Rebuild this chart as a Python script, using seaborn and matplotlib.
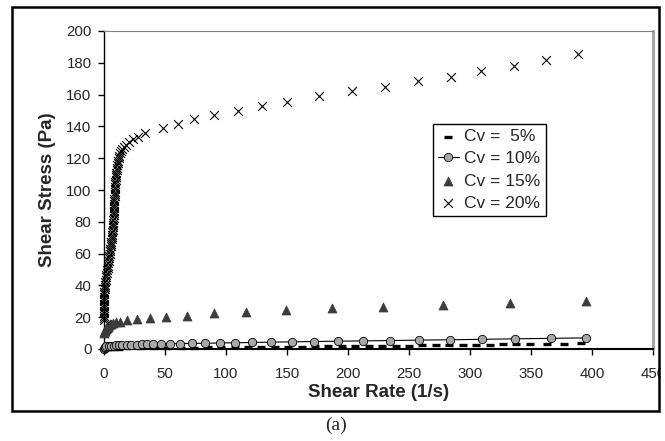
import matplotlib.pyplot as plt
import matplotlib.patches as patches
import seaborn as sns

# Cv = 5 % (dash markers)
rate_5 = [0, 0.5, 1, 2, 3, 5, 8, 12, 20, 30, 41, 52, 63, 74, 85, 96, 107, 118, 129, 140, 151, 162,
          173, 184, 195, 206, 217, 228, 239, 250, 261, 272, 283, 294, 305, 316, 327, 338, 349,
          363, 377, 391]
stress_5 = [0, 0, 0.1, 0.1, 0.1, 0.2, 0.2, 0.3, 0.4, 0.5, 0.6, 0.7, 0.8, 0.9, 1.0, 1.0, 1.1, 1.2,
            1.3, 1.4, 1.4, 1.5, 1.6, 1.7, 1.8, 1.9, 1.9, 2.0, 2.1, 2.2, 2.3, 2.4, 2.5, 2.6, 2.7,
            2.8, 2.9, 3.0, 3.1, 3.3, 3.4, 3.5]

# Cv = 10 % (grey circles joined by a line)
rate_10 = [0, 0.5, 1, 2, 4, 6, 8, 10, 12, 14.5, 18.5, 22.5, 27, 31, 35, 40, 47, 54, 62, 72, 83,
           95, 107, 121.5, 137, 154, 172, 191.5, 212.5, 234.5, 258, 284, 310, 337, 366, 395]
stress_10 = [0, 0.8, 1.2, 1.6, 1.9, 2.1, 2.2, 2.3, 2.4, 2.5, 2.6, 2.7, 2.8, 2.9, 3.0, 3.1, 3.2,
             3.3, 3.4, 3.5, 3.6, 3.8, 3.9, 4.1, 4.3, 4.5, 4.7, 4.9, 5.1, 5.3, 5.6, 5.8, 6.1,
             6.4, 6.7, 7.0]

# Cv = 15 % (dark triangles)
rate_15 = [0, 0.3, 0.6, 1, 1.5, 2, 2.5, 3, 3.5, 4, 5, 6, 7.7, 10, 13, 18.6, 26.8, 37.7, 51,
           68.3, 90, 116, 149, 186.6, 229, 278, 333, 395]
stress_15 = [10, 11, 11.5, 12, 12.5, 13, 13.5, 14, 14.5, 15, 15.5, 16, 16.2, 16.8, 17.2, 18.2,
             18.9, 19.6, 20.3, 21, 22.4, 23.5, 24.5, 25.6, 26.6, 27.6, 28.7, 30.2]

# Cv = 20 % (crosses): dense ramp near zero rate, then sparse points
rate_20 = [0, 0.2, 0, 0.3, 0, 0.2, 0.1, 0, 0.3, 0.2, 0, 0.4, 0.3, 0.5, 0.6,
           0.8, 1.1, 1.4, 1.7, 2.0, 2.3, 2.6, 2.9, 3.2, 3.5, 3.8, 4.1, 4.4, 4.7,
           5.0, 5.3, 5.6, 5.9, 6.1, 6.3, 6.5, 6.7, 6.9, 7.1, 7.3, 7.5, 7.6,
           7.7, 7.8, 7.9, 8.0, 8.1, 8.2, 8.3, 8.4, 8.5, 8.6, 8.7, 8.8, 8.9, 9.0, 9.1, 9.2,
           9.4, 9.5, 9.7, 9.9, 10.1, 10.3, 10.6, 10.9, 11.2, 11.6, 12.0, 12.5, 13.1, 13.8,
           14.8, 16, 18, 20.7, 24, 28, 33.6,
           48, 61, 73.8, 90.4, 110, 129.8, 150, 176.5, 203, 230, 257, 284.4, 309, 336, 362, 388.8]
stress_20 = [18, 19.5, 21, 22.5, 24, 25.5, 27, 28.5, 30, 31.5, 33, 34.5, 36, 37.5, 39,
             40.5, 42, 43.5, 45, 46.5, 48, 49.5, 51, 52.5, 54, 55.5, 57, 58.5, 60,
             61.5, 63, 64.5, 66, 67.5, 69, 70.5, 72, 73.5, 75, 76.5, 78, 79.5,
             81, 82.5, 84, 85.5, 87, 88.5, 90, 91.5, 93, 94.5, 96, 97.5, 99, 100.5, 102, 103.5,
             105, 106.5, 108, 109.5, 111, 112.5, 114, 115.5, 117, 118.5, 120, 121.5, 123, 124.5,
             126, 127, 128, 130.4, 132, 133.5, 136,
             139, 141.3, 144.4, 147.2, 150, 153, 155.5, 159, 162.5, 164.6, 168.5, 171.3, 175,
             178.2, 181.8, 185.3]

x_ticks = list(range(0, 451, 50))
y_ticks = list(range(0, 201, 20))

sns.set_style("white")
plt.rcParams['font.family'] = ['Liberation Sans', 'DejaVu Sans']

fig, ax = plt.subplots(figsize=(6.65, 4.41), dpi=100)
fig.subplots_adjust(left=104 / 665, right=653 / 665, bottom=(441 - 349) / 441, top=(441 - 31) / 441)

sns.scatterplot(x=rate_5, y=stress_5, marker='_', s=36, linewidth=2.4, color='black',
                clip_on=False, ax=ax, label='Cv =  5%', zorder=3)
sns.lineplot(x=rate_10, y=stress_10, marker='o', markersize=6, markerfacecolor='#a8a8a8',
             markeredgecolor='black', markeredgewidth=0.6, color='black', linewidth=0.8,
             estimator=None, sort=False, clip_on=False, ax=ax, label='Cv = 10%', zorder=4)
sns.scatterplot(x=rate_15, y=stress_15, marker='^', s=42, color='#3c3c3c', edgecolor='#3c3c3c',
                clip_on=False, ax=ax, label='Cv = 15%', zorder=5)
sns.scatterplot(x=rate_20, y=stress_20, marker='x', s=40, linewidth=0.8, color='black',
                clip_on=False, ax=ax, label='Cv = 20%', zorder=6)

ax.set_xlim(0, 450)
ax.set_ylim(0, 200)
ax.set_xticks(x_ticks)
ax.set_yticks(y_ticks)
ax.tick_params(axis='both', direction='out', length=4, width=1, color='black',
               labelsize=10.8, left=True, bottom=True)
ax.tick_params(axis='x', pad=9)
ax.tick_params(axis='y', pad=5)

ax.set_xlabel('Shear Rate (1/s)', fontsize=13.5, fontweight='bold', labelpad=2)
ax.set_ylabel('Shear Stress (Pa)', fontsize=13.5, fontweight='bold', labelpad=7)

ax.spines['left'].set_color('black')
ax.spines['left'].set_linewidth(1)
ax.spines['bottom'].set_color('black')
ax.spines['bottom'].set_linewidth(1.5)
ax.spines['top'].set_color('#808080')
ax.spines['top'].set_linewidth(0.8)
ax.spines['right'].set_color('#a0a0a0')
ax.spines['right'].set_linewidth(2)

leg = ax.legend(loc='upper left', bbox_to_anchor=(0.599, 0.7075), borderaxespad=0,
                frameon=True, fancybox=False, edgecolor='black', framealpha=1,
                fontsize=12.5, handlelength=1.2, handletextpad=0.3, borderpad=0.3,
                labelspacing=0.4)
leg.get_frame().set_linewidth(1)

# outer frame of the figure panel
fig.add_artist(patches.Rectangle((660.5 / 665, 0), 1 - 660.5 / 665, 1, transform=fig.transFigure,
                                 facecolor='white', edgecolor='none', zorder=20))
fig.add_artist(patches.Rectangle((12 / 665, 30 / 441), (659 - 12) / 665, (434 - 30) / 441,
                                 transform=fig.transFigure, fill=False, edgecolor='black',
                                 linewidth=1.8, zorder=21))

fig.text(336 / 665, 1 - 425 / 441, '(a)', family=['Liberation Serif', 'DejaVu Serif'],
         fontsize=14, ha='center', va='center')

plt.savefig('out.png', dpi=100)
plt.close()
